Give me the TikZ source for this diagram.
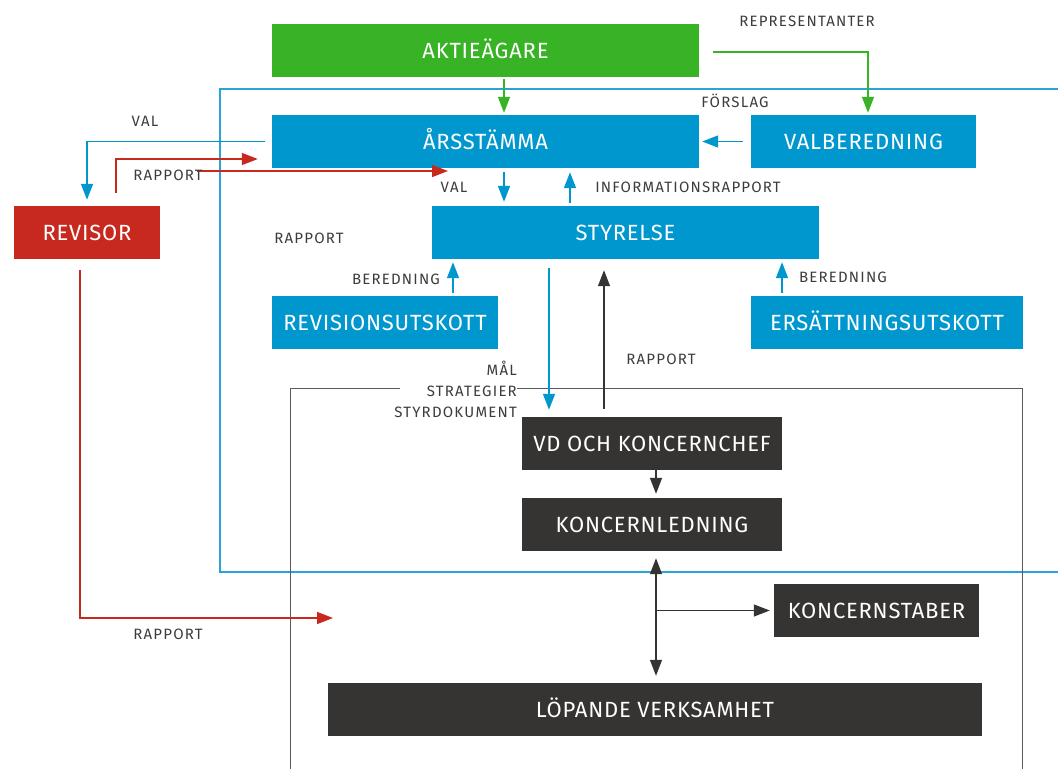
\documentclass[tikz,border=0pt]{standalone}
\usepackage{fontspec}
\setmainfont{Fira Sans}
\newfontfamily\boxfont{Fira Sans}[LetterSpace=3.5]
\newfontfamily\labfont{Fira Sans}[LetterSpace=8]
\usetikzlibrary{arrows.meta,calc}
\definecolor{cgreen}{HTML}{37B325}
\definecolor{cblue}{HTML}{0097CF}
\definecolor{cbluel}{HTML}{2AA3DA}
\definecolor{cred}{HTML}{C8291F}
\definecolor{cdark}{HTML}{353432}
\definecolor{cgray}{HTML}{5A5A5A}
\definecolor{ctext}{HTML}{3C3C3C}
\tikzset{
  box/.style={rectangle, inner sep=0pt, minimum height=53pt, text height=15pt, text depth=0pt, text=white, font=\boxfont\fontsize{22}{24}\selectfont},
  gbox/.style={box, fill=cgreen},
  bbox/.style={box, fill=cblue},
  rbox/.style={box, fill=cred},
  dbox/.style={box, fill=cdark},
  lab/.style={inner sep=0pt, text=ctext, font=\labfont\fontsize{15}{21}\selectfont},
  tipshape/.style={-{Triangle[length=16pt,width=12pt]}},
  garr/.style={tipshape, draw=cgreen, line width=1.5pt},
  barr/.style={tipshape, draw=cblue, line width=1.5pt},
  rarr/.style={tipshape, draw=cred, line width=1.5pt},
  darr/.style={tipshape, draw=cdark, line width=1.3pt},
  frameb/.style={draw=cbluel, line width=1.2pt},
  frameg/.style={draw=cgray, line width=1pt},
}
\begin{document}
\begin{tikzpicture}[x=1pt,y=-1pt]
\useasboundingbox (0,0) rectangle (1058,769);
% frames
\draw[frameb] (1058,89) -- (220,89) -- (220,572) -- (1058,572);
\draw[frameg] (400,388) -- (290,388) -- (290,769);
\draw[frameg] (517,388) -- (1022,388) -- (1022,769);
% boxes
\node[gbox, minimum width=427pt] (akt) at (485.5,50.5) {AKTIEÄGARE};
\node[bbox, minimum width=427pt] (ars) at (485.5,141.5) {ÅRSSTÄMMA};
\node[bbox, minimum width=225pt] (valb) at (863.5,141.5) {VALBEREDNING};
\node[rbox, minimum width=146pt] (rev) at (87,232.5) {REVISOR};
\node[bbox, minimum width=387pt] (sty) at (625.5,232.5) {STYRELSE};
\node[bbox, minimum width=226pt] (rus) at (385,322.5) {REVISIONSUTSKOTT};
\node[bbox, minimum width=272pt] (ers) at (887,322.5) {ERSÄTTNINGSUTSKOTT};
\node[dbox, minimum width=260pt] (vd) at (652,443.5) {VD OCH KONCERNCHEF};
\node[dbox, minimum width=260pt] (kl) at (652,524.5) {KONCERNLEDNING};
\node[dbox, minimum width=205pt] (ks) at (876.5,610.5) {KONCERNSTABER};
\node[dbox, minimum width=654pt] (lop) at (655,709.5) {LÖPANDE VERKSAMHET};
% helper coordinates
\coordinate (c504) at (504,0);
\coordinate (c868) at (868,0);
\coordinate (c570) at (570,0);
\coordinate (c453) at (453,0);
\coordinate (c782) at (782,0);
\coordinate (c549) at (549,0);
\coordinate (c604) at (604,0);
\coordinate (c656) at (656,0);
\coordinate (r1) at (116,159);
\coordinate (r2s) at (197,171);
\coordinate (r2e) at (448,171);
\coordinate (r3) at (80,618);
\coordinate (r3e) at (333,618);
% connectors
\draw[garr, shorten <=2pt, shorten >=2pt] (akt.south -| c504) -- (ars.north -| c504);
\draw[garr, shorten >=2pt] ([xshift=14pt,yshift=-1.5pt]akt.east) -- ([yshift=-1.5pt]akt.east -| c868) -- (valb.north -| c868);
\draw[barr, shorten <=8pt, shorten >=3pt] (valb.west) -- (ars.east);
\draw[barr, shorten >=6pt] ([xshift=-7pt]ars.west) -- (ars.west -| rev.north) -- (rev.north);
\draw[rarr, shorten <=13pt, shorten >=14pt] (rev.north -| r1) -- (r1) -- (r1 -| ars.west);
\draw[rarr] (r2s) -- (r2e);
\draw[rarr, shorten <=11pt] (rev.south -| r3) -- (r3) -- (r3e);
\draw[barr, shorten <=4pt, shorten >=4pt] (ars.south -| c504) -- (sty.north -| c504);
\draw[barr, shorten <=3pt, shorten >=4pt] (sty.north -| c570) -- (ars.south -| c570);
\draw[barr, shorten <=3pt, shorten >=3pt] (rus.north -| c453) -- (sty.south -| c453);
\draw[barr, shorten <=3pt, shorten >=3pt] (ers.north -| c782) -- (sty.south -| c782);
\draw[barr, shorten <=9pt, shorten >=7pt] (sty.south -| c549) -- (vd.north -| c549);
\draw[darr, shorten <=8pt, shorten >=11pt] (vd.north -| c604) -- (sty.south -| c604);
\draw[darr, shorten >=4pt] (vd.south -| c656) -- (kl.north -| c656);
\draw[darr, {Triangle[length=16pt,width=12pt]}-{Triangle[length=16pt,width=12pt]}, shorten <=7pt, shorten >=7pt] (kl.south -| c656) -- (lop.north -| c656);
\draw[darr, shorten >=4pt] (ks.west -| c656) -- (ks.west);
% labels
\node[lab] (l1) at (807,21) {REPRESENTANTER};
\node[lab] (l2) at (735,101) {FÖRSLAG};
\node[lab] (l3) at (145,121) {VAL};
\node[lab] (l4) at (168,175) {RAPPORT};
\node[lab] (l5) at (309,238) {RAPPORT};
\node[lab] (l6) at (454,187) {VAL};
\node[lab] (l7) at (688,187) {INFORMATIONSRAPPORT};
\node[lab] (l8) at (396,279) {BEREDNING};
\node[lab] (l9) at (843,277) {BEREDNING};
\node[lab] (l10) at (661,359) {RAPPORT};
\node[lab, align=right, anchor=east] (l11) at (517,389) {MÅL\\STRATEGIER\\STYRDOKUMENT};
\node[lab] (l12) at (168,634) {RAPPORT};
\end{tikzpicture}
\end{document}
